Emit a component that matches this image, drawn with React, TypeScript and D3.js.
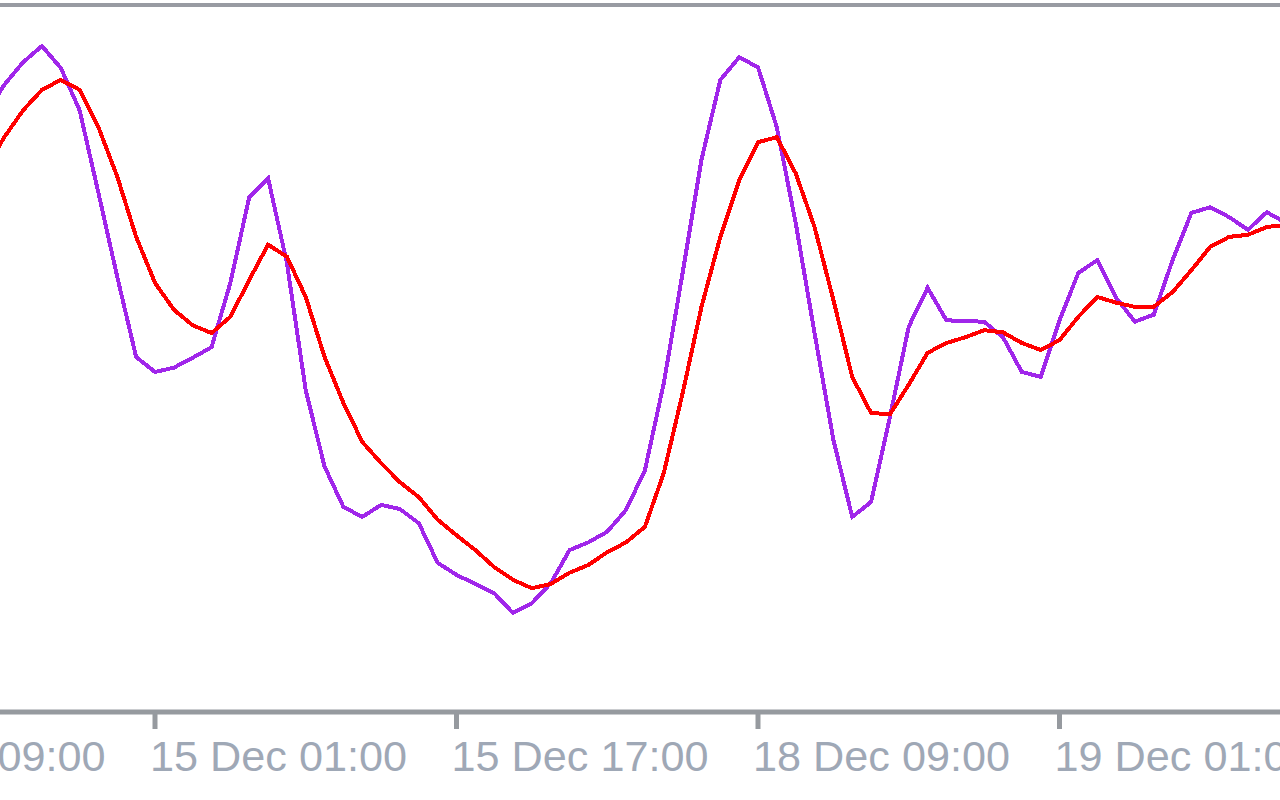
import React, { useRef, useEffect } from 'react'
import * as d3 from 'd3'

const width = 1280
const height = 800

// bar index of each sample (H1 bars, 16 bars between time labels)
const barIndex = d3.range(-9, 61)

// main oscillator line (purple)
const mainLine = [
  84.4, 88.7, 91.9, 94.2, 91.1, 85.1, 73.4, 61.5, 50.2, 48.1,
  48.7, 50.1, 51.6, 60.7, 72.8, 75.5, 63.5, 45.5, 34.7, 29.0,
  27.6, 29.3, 28.7, 26.7, 21.1, 19.4, 18.1, 16.8, 14.0, 15.4,
  18.2, 22.9, 24.0, 25.5, 28.6, 34.2, 46.5, 62.1, 78.1, 89.4,
  92.6, 91.2, 82.7, 69.2, 53.6, 38.5, 27.6, 29.7, 41.7, 54.5,
  60.0, 55.4, 55.3, 55.2, 53.0, 48.1, 47.4, 55.4, 62.1, 63.9,
  58.6, 55.2, 56.2, 63.9, 70.6, 71.4, 70.0, 68.2, 70.7, 69.2
]

// signal line (red)
const signalLine = [
  76.7, 81.3, 85.1, 88.0, 89.4, 88.0, 82.7, 75.7, 67.2, 60.7,
  56.9, 54.7, 53.6, 55.9, 61.1, 66.1, 64.4, 58.7, 50.2, 43.7,
  38.2, 35.2, 32.5, 30.4, 27.2, 25.0, 22.9, 20.5, 18.7, 17.5,
  18.1, 19.7, 20.8, 22.6, 24.0, 26.2, 33.8, 45.1, 57.3, 67.2,
  75.2, 80.6, 81.3, 76.2, 68.6, 58.3, 47.4, 42.3, 42.1, 46.3,
  50.8, 52.2, 53.0, 54.0, 53.7, 52.2, 51.2, 52.6, 55.9, 58.7,
  57.9, 57.3, 57.3, 59.4, 62.5, 65.8, 67.2, 67.5, 68.6, 68.9
]

const tickBars = [-16, 0, 16, 32, 48]
const tickLabels = ['14 Dec 09:00', '15 Dec 01:00', '15 Dec 17:00', '18 Dec 09:00', '19 Dec 01:00']

const App: React.FC = () => {
  const svgRef = useRef<SVGSVGElement>(null)

  useEffect(() => {
    if (!svgRef.current) return
    document.body.style.margin = '0'

    const svg = d3.select(svgRef.current)
    svg.selectAll('*').remove()

    const x = d3.scaleLinear().domain([0, 16]).range([155, 456.5])
    const y = d3.scaleLinear().domain([0, 100]).range([712, 5])
    const axisY = 712

    // top border of the indicator window
    svg.append('line')
      .attr('x1', 0).attr('x2', width)
      .attr('y1', 5).attr('y2', 5)
      .style('stroke', '#989ba2')
      .style('stroke-width', 4)

    // time axis
    svg.append('line')
      .attr('x1', 0).attr('x2', width)
      .attr('y1', axisY).attr('y2', axisY)
      .style('stroke', '#969a9f')
      .style('stroke-width', 5)

    const ticks = svg.append('g')
    tickBars.forEach((b, i) => {
      ticks.append('line')
        .attr('x1', x(b)).attr('x2', x(b))
        .attr('y1', axisY).attr('y2', axisY + 17)
        .style('stroke', '#969a9f')
        .style('stroke-width', 5)
      ticks.append('text')
        .attr('x', x(b) - 5)
        .attr('y', axisY + 59)
        .attr('textLength', 257)
        .attr('lengthAdjust', 'spacingAndGlyphs')
        .style('font-family', '"Liberation Sans", Arial, sans-serif')
        .style('font-size', '43px')
        .style('fill', '#9fa8b6')
        .text(tickLabels[i])
    })

    const lineFn = d3.line<number>()
      .x((_, i) => x(barIndex[i]))
      .y((d) => y(d))

    svg.append('path')
      .attr('d', lineFn(mainLine) || '')
      .style('fill', 'none')
      .style('stroke', '#a026ea')
      .style('stroke-width', 4)
      .style('shape-rendering', 'crispEdges')

    svg.append('path')
      .attr('d', lineFn(signalLine) || '')
      .style('fill', 'none')
      .style('stroke', '#ff0000')
      .style('stroke-width', 4)
      .style('shape-rendering', 'crispEdges')
  }, [])

  return (
    <svg
      ref={svgRef}
      width={width}
      height={height}
      style={{ position: 'absolute', left: 0, top: 0, background: '#ffffff' }}
    />
  )
}

export default App
